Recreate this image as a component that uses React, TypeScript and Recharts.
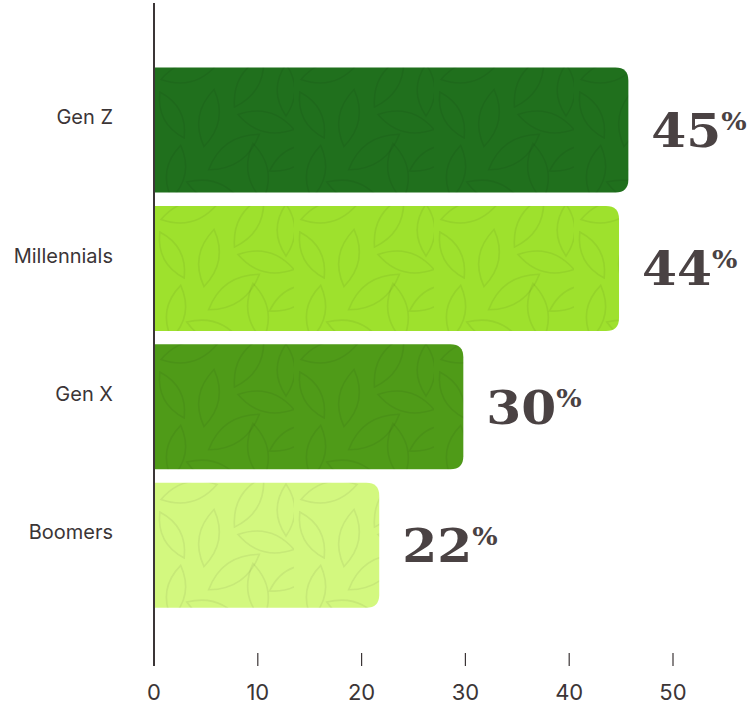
import React from 'react';
import { BarChart, Bar, XAxis, YAxis, Cell, LabelList } from 'recharts';

const generations = ['Gen Z', 'Millennials', 'Gen X', 'Boomers'];
const shares = [45.7, 44.8, 29.8, 21.7];
const shareLabels = ['45', '44', '30', '22'];
const barColors = ['#20701d', '#9ee12d', '#4f9b18', '#d3f87f'];
const xTicks = [0, 10, 20, 30, 40, 50];

const data = generations.map((g, i) => ({ name: g, value: shares[i], label: shareLabels[i] }));

const INK = '#3b3536';

const leaves: [number, number, number, number][] = [
  [35, 12, -15, 58],
  [95, 22, -60, 58],
  [132, 30, 90, 52],
  [18, 55, 62, 52],
  [55, 58, -80, 58],
  [80, 92, -35, 62],
  [112, 62, 15, 58],
  [22, 112, 100, 54],
  [104, 112, 80, 58],
  [60, 132, 20, 58],
  [138, 98, -30, 52],
];

const leafPath = (L: number) => `M${-L / 2},0 Q0,${-L * 0.34} ${L / 2},0 Q0,${L * 0.34} ${-L / 2},0 Z`;

const BarShape = (props: any) => {
  const { x, y, width, height, fill } = props;
  const r = Math.min(13, width / 2, height / 2);
  const d = `M${x},${y} H${x + width - r} Q${x + width},${y} ${x + width},${y + r} V${y + height - r} Q${x + width},${y + height} ${x + width - r},${y + height} H${x} Z`;
  return (
    <g>
      <path d={d} fill={fill} />
      <path d={d} fill="url(#leafPattern)" />
    </g>
  );
};

const ValueLabel = (props: any) => {
  const { x, y, width, height, index } = props;
  const cy = y + height / 2;
  return (
    <text
      transform={`translate(${x + width + 23},${cy + 17}) scale(1.07,1)`}
      fill="#4a4243"
      fontFamily="'DejaVu Serif', serif"
      fontWeight="bold"
      fontSize={47}
    >
      {shareLabels[index]}
      <tspan fontSize={25} dx={0} dy={-17}>%</tspan>
    </text>
  );
};

const YTick = (props: any) => {
  const { x, y, payload } = props;
  return (
    <text x={x} y={y - 5.5} textAnchor="end" fill={INK} fontFamily="Inter, sans-serif" fontSize={20}>
      {payload.value}
    </text>
  );
};

const XTick = (props: any) => {
  const { x, payload, index } = props;
  return (
    <g>
      <line x1={x} x2={x} y1={653} y2={666} stroke={INK} strokeWidth={index === 0 ? 2 : 1.2} />
      <text x={x} y={699.5} textAnchor="middle" fill={INK} fontFamily="Inter, sans-serif" fontSize={22}>
        {payload.value}
      </text>
    </g>
  );
};

export default function App() {
  return (
    <div style={{ position: 'absolute', left: 0, top: 0, width: 750, height: 705, background: '#fff' }}>
      <BarChart
        width={750}
        height={705}
        data={data}
        layout="vertical"
        margin={{ top: 3, right: 77, bottom: 0, left: 0 }}
      >
        <defs>
          <pattern id="leafPattern" patternUnits="userSpaceOnUse" width={140} height={140} x={154} y={60}>
            {leaves.map(([cx, cy, a, L], i) => (
              <path
                key={i}
                d={leafPath(L)}
                transform={`translate(${cx},${cy}) rotate(${a})`}
                fill="none"
                stroke="rgba(0,0,0,0.06)"
                strokeWidth={1.6}
              />
            ))}
          </pattern>
        </defs>
        <XAxis
          type="number"
          domain={[0, 50]}
          ticks={xTicks}
          axisLine={false}
          tickLine={false}
          tick={<XTick />}
          height={52}
          interval={0}
        />
        <YAxis
          type="category"
          dataKey="name"
          width={154}
          axisLine={{ stroke: INK, strokeWidth: 2 }}
          tickLine={false}
          tickSize={0}
          tickMargin={41}
          tick={<YTick />}
          padding={{ top: 57.5, bottom: 39 }}
          interval={0}
        />
        <Bar dataKey="value" barSize={125} isAnimationActive={false} shape={<BarShape />}>
          {data.map((d, i) => (
            <Cell key={d.name} fill={barColors[i]} />
          ))}
          <LabelList dataKey="label" content={<ValueLabel />} />
        </Bar>
      </BarChart>
    </div>
  );
}
